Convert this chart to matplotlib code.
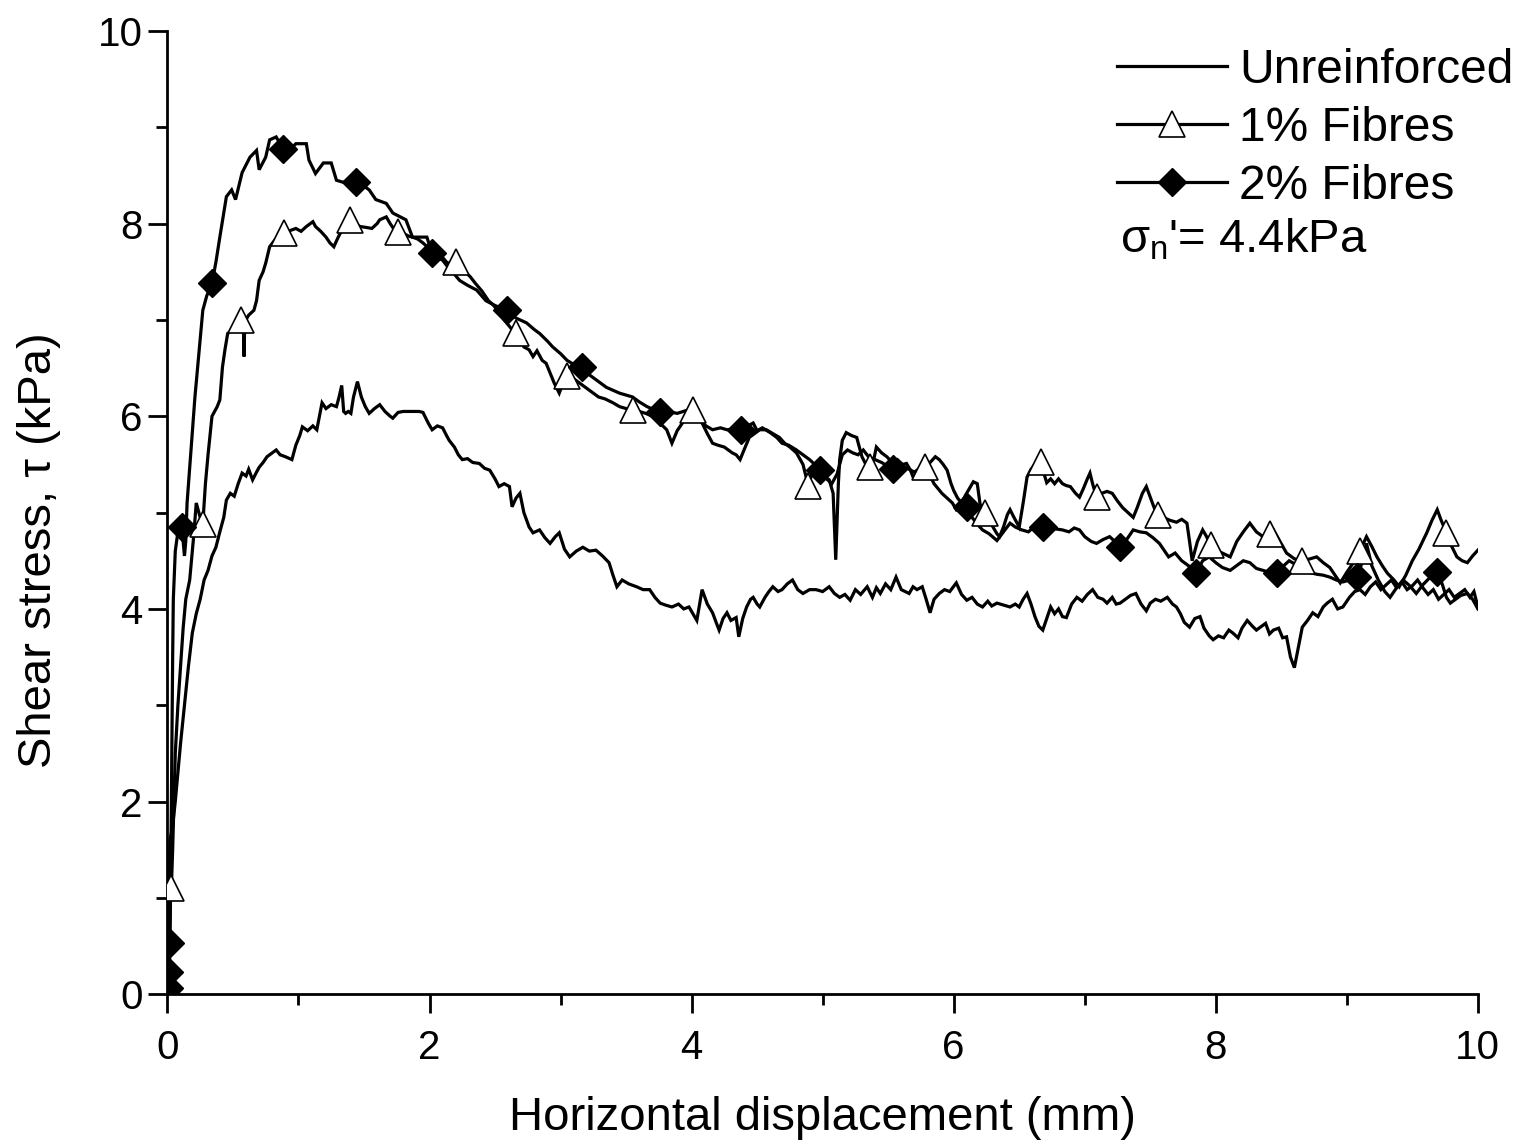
import numpy as np
import matplotlib
matplotlib.use("Agg")
import matplotlib.pyplot as plt
from matplotlib.lines import Line2D
from matplotlib.ticker import MultipleLocator

plt.rcParams['font.family'] = ['Liberation Sans', 'DejaVu Sans']
plt.rcParams['mathtext.fontset'] = 'custom'
plt.rcParams['mathtext.rm'] = 'Liberation Sans'
plt.rcParams['mathtext.it'] = 'Liberation Sans'

# (displacement mm, shear stress kPa)
unreinforced = [
    (0.00, 0.00), (0.005, 0.6), (0.01, 1.2), (0.02, 1.6), (0.04, 1.75), (0.06, 2.0), (0.08, 2.3),
    (0.10, 2.6), (0.13, 3.0), (0.16, 3.4), (0.19, 3.75), (0.22, 3.95), (0.25, 4.1), (0.28, 4.3),
    (0.31, 4.4), (0.34, 4.55), (0.37, 4.64), (0.40, 4.8), (0.43, 4.95), (0.45, 5.13), (0.48, 5.2),
    (0.51, 5.17), (0.54, 5.3), (0.57, 5.41), (0.60, 5.38), (0.62, 5.45), (0.65, 5.34), (0.68, 5.42),
    (0.70, 5.47), (0.73, 5.52), (0.76, 5.58), (0.80, 5.62), (0.83, 5.65), (0.86, 5.6), (0.90, 5.58),
    (0.95, 5.55), (0.98, 5.7), (1.01, 5.8), (1.03, 5.89), (1.07, 5.85), (1.11, 5.9), (1.14, 5.86),
    (1.16, 6.0), (1.18, 6.14), (1.21, 6.08), (1.25, 6.12), (1.29, 6.1), (1.31, 6.2), (1.33, 6.32),
    (1.345, 6.05), (1.36, 6.03), (1.38, 6.05), (1.40, 6.03), (1.42, 6.2), (1.45, 6.36), (1.48, 6.2),
    (1.51, 6.1), (1.54, 6.03), (1.58, 6.08), (1.62, 6.12), (1.66, 6.05), (1.70, 6.0), (1.72, 5.98),
    (1.76, 6.04), (1.80, 6.05), (1.86, 6.05), (1.92, 6.05), (1.95, 6.04), (1.99, 5.93), (2.02, 5.86),
    (2.06, 5.9), (2.10, 5.88), (2.13, 5.8), (2.15, 5.75), (2.19, 5.68), (2.22, 5.6), (2.25, 5.55),
    (2.29, 5.56), (2.33, 5.52), (2.38, 5.51), (2.42, 5.46), (2.46, 5.44), (2.50, 5.35), (2.53, 5.27),
    (2.57, 5.3), (2.61, 5.27), (2.63, 5.06), (2.66, 5.15), (2.69, 5.2), (2.72, 5.0), (2.76, 4.85),
    (2.79, 4.79), (2.84, 4.82), (2.88, 4.74), (2.92, 4.68), (2.96, 4.75), (2.99, 4.79), (3.03, 4.62),
    (3.07, 4.54), (3.12, 4.6), (3.17, 4.64), (3.22, 4.6), (3.27, 4.61), (3.32, 4.55), (3.37, 4.48),
    (3.40, 4.35), (3.43, 4.23), (3.47, 4.3), (3.52, 4.26), (3.58, 4.23), (3.63, 4.2), (3.68, 4.2),
    (3.72, 4.12), (3.76, 4.06), (3.80, 4.04), (3.85, 4.02), (3.90, 4.05), (3.94, 4.0), (3.98, 4.02),
    (4.01, 3.95), (4.04, 3.88), (4.08, 4.2), (4.12, 4.05), (4.16, 3.96), (4.19, 3.85), (4.21, 3.78),
    (4.24, 3.9), (4.27, 3.96), (4.30, 3.88), (4.34, 3.91), (4.36, 3.71), (4.39, 3.9), (4.42, 4.02),
    (4.45, 4.1), (4.47, 4.12), (4.50, 4.05), (4.52, 4.02), (4.56, 4.12), (4.59, 4.18), (4.62, 4.23),
    (4.66, 4.18), (4.69, 4.2), (4.73, 4.26), (4.77, 4.3), (4.81, 4.2), (4.85, 4.16), (4.90, 4.2),
    (4.95, 4.2), (5.00, 4.18), (5.05, 4.23), (5.09, 4.16), (5.13, 4.12), (5.17, 4.15), (5.21, 4.09),
    (5.25, 4.2), (5.29, 4.15), (5.34, 4.23), (5.38, 4.12), (5.41, 4.22), (5.44, 4.16), (5.48, 4.26),
    (5.52, 4.2), (5.56, 4.33), (5.60, 4.2), (5.63, 4.18), (5.66, 4.16), (5.69, 4.23), (5.72, 4.2),
    (5.76, 4.23), (5.79, 4.1), (5.82, 3.96), (5.85, 4.1), (5.89, 4.16), (5.93, 4.2), (5.97, 4.18),
    (6.02, 4.27), (6.06, 4.15), (6.10, 4.09), (6.14, 4.12), (6.18, 4.05), (6.22, 4.02), (6.26, 4.08),
    (6.29, 4.03), (6.33, 4.06), (6.38, 4.04), (6.43, 4.02), (6.47, 4.05), (6.50, 4.02), (6.53, 4.1),
    (6.56, 4.16), (6.59, 4.05), (6.62, 3.92), (6.65, 3.82), (6.68, 3.78), (6.71, 3.9), (6.74, 4.02),
    (6.77, 3.95), (6.80, 4.0), (6.83, 3.92), (6.86, 3.91), (6.90, 4.05), (6.94, 4.12), (6.98, 4.08),
    (7.02, 4.15), (7.06, 4.2), (7.10, 4.12), (7.14, 4.1), (7.17, 4.06), (7.21, 4.12), (7.24, 4.05),
    (7.27, 4.06), (7.31, 4.1), (7.35, 4.14), (7.39, 4.16), (7.43, 4.05), (7.47, 3.98), (7.50, 4.06),
    (7.54, 4.1), (7.58, 4.08), (7.63, 4.12), (7.67, 4.05), (7.70, 4.02), (7.73, 3.95), (7.76, 3.86),
    (7.80, 3.81), (7.84, 3.9), (7.88, 3.92), (7.91, 3.8), (7.95, 3.72), (7.98, 3.68), (8.02, 3.72),
    (8.06, 3.7), (8.10, 3.78), (8.13, 3.75), (8.17, 3.7), (8.20, 3.8), (8.24, 3.88), (8.28, 3.82),
    (8.31, 3.78), (8.34, 3.81), (8.38, 3.85), (8.41, 3.74), (8.44, 3.78), (8.48, 3.8), (8.51, 3.7),
    (8.54, 3.71), (8.57, 3.5), (8.60, 3.39), (8.63, 3.6), (8.66, 3.81), (8.70, 3.88), (8.74, 3.96),
    (8.78, 3.92), (8.82, 4.02), (8.85, 4.06), (8.89, 4.1), (8.93, 4.0), (8.97, 4.02), (9.02, 4.12),
    (9.06, 4.18), (9.10, 4.2), (9.14, 4.15), (9.18, 4.23), (9.22, 4.28), (9.26, 4.2), (9.30, 4.25),
    (9.34, 4.3), (9.38, 4.22), (9.42, 4.28), (9.46, 4.2), (9.50, 4.24), (9.54, 4.3), (9.58, 4.22),
    (9.62, 4.15), (9.66, 4.2), (9.70, 4.1), (9.74, 4.15), (9.78, 4.2), (9.82, 4.12), (9.86, 4.16),
    (9.90, 4.2), (9.94, 4.12), (9.97, 4.18), (10.0, 4.02),
]

fibres_1 = [
    (0.00, 0.0), (0.01, 0.4), (0.02, 0.9), (0.03, 1.1), (0.04, 1.5), (0.05, 2.0), (0.06, 2.5),
    (0.08, 3.0), (0.10, 3.4), (0.12, 3.8), (0.14, 4.1), (0.17, 4.3), (0.20, 4.75), (0.22, 5.1),
    (0.25, 4.95), (0.27, 4.88), (0.29, 5.3), (0.31, 5.6), (0.34, 6.0), (0.38, 6.1), (0.40, 6.17),
    (0.42, 6.51), (0.44, 6.7), (0.46, 6.86), (0.50, 6.9), (0.53, 6.95), (0.56, 7.0), (0.58, 6.98),
    (0.585, 6.62), (0.59, 6.98), (0.62, 7.05), (0.66, 7.1), (0.68, 7.2), (0.70, 7.41), (0.73, 7.5),
    (0.75, 7.59), (0.78, 7.76), (0.82, 7.83), (0.86, 7.88), (0.89, 7.9), (0.94, 7.93), (0.98, 7.95),
    (1.02, 7.92), (1.06, 7.97), (1.09, 8.0), (1.11, 8.02), (1.13, 7.97), (1.17, 7.92), (1.21, 7.86),
    (1.24, 7.8), (1.27, 7.76), (1.30, 7.85), (1.33, 7.93), (1.36, 8.0), (1.39, 8.04), (1.43, 8.0),
    (1.47, 7.97), (1.52, 7.96), (1.56, 7.95), (1.60, 8.0), (1.62, 8.04), (1.67, 8.07), (1.70, 8.0),
    (1.73, 7.94), (1.76, 7.91), (1.80, 7.9), (1.84, 7.87), (1.87, 7.86), (1.91, 7.84), (1.95, 7.8),
    (1.99, 7.75), (2.03, 7.72), (2.07, 7.68), (2.10, 7.65), (2.13, 7.6), (2.16, 7.58), (2.20, 7.6),
    (2.23, 7.52), (2.27, 7.5), (2.31, 7.45), (2.35, 7.38), (2.40, 7.3), (2.45, 7.2), (2.49, 7.15),
    (2.53, 7.08), (2.57, 7.0), (2.60, 6.95), (2.63, 6.9), (2.66, 6.86), (2.69, 6.8), (2.72, 6.72),
    (2.76, 6.69), (2.79, 6.62), (2.82, 6.68), (2.86, 6.58), (2.89, 6.55), (2.92, 6.45), (2.95, 6.35),
    (2.99, 6.24), (3.02, 6.35), (3.05, 6.42), (3.09, 6.4), (3.14, 6.35), (3.19, 6.3), (3.24, 6.25),
    (3.29, 6.2), (3.34, 6.18), (3.40, 6.14), (3.45, 6.1), (3.50, 6.08), (3.55, 6.06), (3.60, 6.05),
    (3.65, 6.03), (3.70, 6.0), (3.74, 5.95), (3.78, 5.9), (3.81, 5.86), (3.85, 5.72), (3.89, 5.85),
    (3.93, 5.93), (3.97, 6.0), (4.01, 6.06), (4.05, 6.0), (4.08, 5.93), (4.12, 5.82), (4.16, 5.72),
    (4.20, 5.7), (4.25, 5.68), (4.31, 5.62), (4.34, 5.6), (4.37, 5.55), (4.40, 5.65), (4.44, 5.78),
    (4.48, 5.82), (4.52, 5.86), (4.57, 5.86), (4.62, 5.82), (4.67, 5.78), (4.71, 5.72), (4.75, 5.68),
    (4.80, 5.62), (4.85, 5.5), (4.89, 5.28), (4.93, 5.45), (4.97, 5.42), (5.01, 5.38), (5.05, 5.34),
    (5.08, 5.2), (5.10, 4.51), (5.12, 5.3), (5.13, 5.55), (5.15, 5.75), (5.18, 5.83), (5.22, 5.8),
    (5.26, 5.78), (5.30, 5.58), (5.33, 5.5), (5.36, 5.47), (5.39, 5.55), (5.41, 5.68), (5.45, 5.62),
    (5.49, 5.58), (5.53, 5.52), (5.57, 5.55), (5.61, 5.5), (5.64, 5.51), (5.67, 5.44), (5.69, 5.37),
    (5.72, 5.42), (5.75, 5.48), (5.78, 5.47), (5.82, 5.52), (5.86, 5.58), (5.89, 5.55), (5.92, 5.5),
    (5.95, 5.44), (5.98, 5.3), (6.00, 5.23), (6.03, 5.15), (6.06, 5.1), (6.09, 5.18), (6.12, 5.25),
    (6.15, 5.32), (6.18, 5.3), (6.20, 5.1), (6.22, 5.0), (6.24, 5.0), (6.27, 4.92), (6.30, 4.85),
    (6.33, 4.78), (6.35, 4.75), (6.38, 4.85), (6.41, 4.98), (6.43, 5.03), (6.46, 4.95), (6.50, 4.85),
    (6.53, 5.1), (6.56, 5.37), (6.59, 5.45), (6.62, 5.5), (6.67, 5.52), (6.69, 5.4), (6.71, 5.31),
    (6.74, 5.35), (6.77, 5.3), (6.80, 5.35), (6.83, 5.3), (6.86, 5.28), (6.89, 5.27), (6.93, 5.2),
    (6.96, 5.16), (6.99, 5.25), (7.02, 5.35), (7.04, 5.41), (7.06, 5.3), (7.09, 5.16), (7.13, 5.2),
    (7.17, 5.22), (7.21, 5.2), (7.25, 5.12), (7.29, 5.05), (7.33, 5.0), (7.37, 4.95), (7.40, 5.05),
    (7.44, 5.2), (7.47, 5.27), (7.50, 5.16), (7.53, 5.05), (7.56, 4.97), (7.60, 4.95), (7.65, 4.92),
    (7.70, 4.9), (7.74, 4.93), (7.78, 4.89), (7.80, 4.7), (7.82, 4.5), (7.86, 4.7), (7.90, 4.82),
    (7.93, 4.75), (7.96, 4.66), (8.00, 4.61), (8.05, 4.58), (8.11, 4.54), (8.16, 4.7), (8.21, 4.8),
    (8.26, 4.89), (8.31, 4.8), (8.36, 4.75), (8.41, 4.78), (8.44, 4.82), (8.49, 4.7), (8.54, 4.58),
    (8.60, 4.52), (8.66, 4.5), (8.72, 4.52), (8.77, 4.54), (8.82, 4.48), (8.87, 4.43), (8.91, 4.35),
    (8.95, 4.27), (9.00, 4.38), (9.05, 4.48), (9.10, 4.6), (9.15, 4.75), (9.19, 4.65), (9.23, 4.54),
    (9.27, 4.45), (9.31, 4.37), (9.36, 4.3), (9.40, 4.23), (9.45, 4.35), (9.50, 4.5), (9.55, 4.62),
    (9.61, 4.79), (9.65, 4.92), (9.69, 5.03), (9.72, 4.92), (9.76, 4.79), (9.80, 4.65), (9.84, 4.54),
    (9.88, 4.5), (9.92, 4.48), (9.96, 4.55), (10.0, 4.61),
]

fibres_2 = [
    (0.00, 0.0), (0.01, 0.06), (0.015, 0.23), (0.02, 0.53), (0.025, 1.2), (0.03, 2.0), (0.035, 2.8),
    (0.04, 3.5), (0.045, 4.1), (0.06, 4.6), (0.08, 4.8), (0.11, 4.85), (0.13, 4.55), (0.14, 4.7),
    (0.15, 5.1), (0.17, 5.47), (0.19, 5.83), (0.21, 6.2), (0.23, 6.5), (0.27, 7.1), (0.30, 7.25),
    (0.34, 7.38), (0.37, 7.6), (0.40, 7.86), (0.45, 8.28), (0.49, 8.35), (0.52, 8.25), (0.57, 8.53),
    (0.63, 8.69), (0.68, 8.76), (0.70, 8.56), (0.75, 8.69), (0.78, 8.87), (0.83, 8.9), (0.88, 8.78),
    (0.93, 8.76), (0.98, 8.83), (1.06, 8.83), (1.08, 8.66), (1.13, 8.52), (1.19, 8.63), (1.25, 8.63),
    (1.29, 8.45), (1.34, 8.43), (1.39, 8.44), (1.44, 8.43), (1.49, 8.4), (1.54, 8.35), (1.59, 8.25),
    (1.67, 8.21), (1.72, 8.11), (1.82, 8.04), (1.87, 7.86), (1.98, 7.86), (2.02, 7.69), (2.06, 7.65),
    (2.10, 7.62), (2.14, 7.55), (2.18, 7.49), (2.23, 7.41), (2.29, 7.36), (2.36, 7.31), (2.43, 7.2),
    (2.50, 7.15), (2.55, 7.12), (2.59, 7.1), (2.66, 7.02), (2.74, 6.97), (2.80, 6.9), (2.84, 6.86),
    (2.90, 6.78), (2.94, 6.72), (3.00, 6.65), (3.05, 6.58), (3.11, 6.53), (3.16, 6.51), (3.20, 6.45),
    (3.24, 6.41), (3.30, 6.35), (3.35, 6.3), (3.40, 6.27), (3.45, 6.24), (3.50, 6.22), (3.55, 6.2),
    (3.60, 6.15), (3.66, 6.1), (3.71, 6.07), (3.76, 6.04), (3.82, 6.05), (3.89, 6.03), (3.96, 6.06),
    (4.01, 6.0), (4.06, 5.96), (4.11, 5.9), (4.16, 5.86), (4.22, 5.88), (4.27, 5.86), (4.33, 5.87),
    (4.38, 5.86), (4.43, 5.9), (4.47, 5.93), (4.50, 5.85), (4.54, 5.88), (4.60, 5.83), (4.65, 5.78),
    (4.69, 5.72), (4.74, 5.7), (4.80, 5.65), (4.85, 5.6), (4.90, 5.55), (4.94, 5.5), (4.98, 5.44),
    (5.03, 5.35), (5.07, 5.3), (5.11, 5.4), (5.15, 5.6), (5.19, 5.65), (5.23, 5.62), (5.27, 5.6),
    (5.31, 5.65), (5.35, 5.58), (5.40, 5.55), (5.45, 5.52), (5.50, 5.48), (5.54, 5.45), (5.58, 5.5),
    (5.62, 5.48), (5.66, 5.45), (5.70, 5.42), (5.74, 5.46), (5.78, 5.42), (5.82, 5.38), (5.85, 5.3),
    (5.88, 5.25), (5.91, 5.2), (5.95, 5.15), (5.99, 5.1), (6.02, 5.03), (6.06, 5.08), (6.10, 5.06),
    (6.14, 4.95), (6.18, 4.88), (6.22, 4.82), (6.27, 4.78), (6.33, 4.71), (6.38, 4.8), (6.43, 4.89),
    (6.47, 4.85), (6.52, 4.82), (6.57, 4.8), (6.62, 4.86), (6.68, 4.85), (6.73, 4.88), (6.78, 4.83),
    (6.83, 4.82), (6.88, 4.8), (6.92, 4.84), (6.96, 4.82), (7.00, 4.75), (7.05, 4.7), (7.09, 4.68),
    (7.14, 4.72), (7.19, 4.75), (7.23, 4.7), (7.27, 4.64), (7.32, 4.72), (7.37, 4.82), (7.42, 4.8),
    (7.47, 4.79), (7.52, 4.74), (7.57, 4.68), (7.61, 4.6), (7.64, 4.54), (7.69, 4.58), (7.74, 4.5),
    (7.79, 4.45), (7.85, 4.37), (7.90, 4.5), (7.95, 4.54), (8.00, 4.48), (8.05, 4.43), (8.11, 4.4),
    (8.16, 4.45), (8.21, 4.5), (8.26, 4.48), (8.31, 4.42), (8.36, 4.4), (8.41, 4.38), (8.47, 4.37),
    (8.52, 4.45), (8.56, 4.5), (8.61, 4.46), (8.66, 4.4), (8.71, 4.38), (8.77, 4.36), (8.82, 4.35),
    (8.87, 4.33), (8.92, 4.3), (8.97, 4.28), (9.02, 4.3), (9.08, 4.33), (9.12, 4.5), (9.15, 4.68),
    (9.19, 4.45), (9.24, 4.3), (9.29, 4.18), (9.33, 4.12), (9.38, 4.22), (9.43, 4.3), (9.48, 4.24),
    (9.53, 4.16), (9.58, 4.25), (9.63, 4.32), (9.69, 4.38), (9.73, 4.25), (9.76, 4.12), (9.79, 4.06),
    (9.83, 4.1), (9.87, 4.14), (9.92, 4.16), (9.96, 4.1), (10.0, 4.0),
]

# marker positions along the fibre curves
fibres_1_marks = [
    (0.03, 1.1), (0.27, 4.88), (0.56, 7.0), (0.89, 7.9), (1.39, 8.04), (1.76, 7.91), (2.20, 7.6),
    (2.66, 6.86), (3.05, 6.42), (3.55, 6.06), (4.01, 6.06), (4.89, 5.28), (5.36, 5.47), (5.78, 5.47),
    (6.24, 5.0), (6.67, 5.52), (7.09, 5.16), (7.56, 4.97), (7.96, 4.66), (8.41, 4.78), (8.66, 4.5),
    (9.10, 4.6), (9.76, 4.79),
]
fibres_2_marks = [
    (0.01, 0.06), (0.015, 0.23), (0.02, 0.53), (0.11, 4.85), (0.34, 7.38), (0.88, 8.78), (1.44, 8.43),
    (2.02, 7.69), (2.59, 7.1), (3.16, 6.51), (3.76, 6.04), (4.38, 5.86), (4.98, 5.44), (5.54, 5.45),
    (6.10, 5.06), (6.68, 4.85), (7.27, 4.64), (7.85, 4.37), (8.47, 4.37), (9.08, 4.33), (9.69, 4.38),
]

labels = ["Unreinforced", "1% Fibres", "2% Fibres"]
note = "'= 4.4kPa"

fig = plt.figure(figsize=(15.22, 11.48), dpi=100)
ax = fig.add_axes([0.110, 0.134, 0.861, 0.839])

lw = 2.3
for pts in (unreinforced, fibres_1, fibres_2):
    x, y = np.array(pts).T
    ax.plot(x, y, color='black', lw=lw, solid_joinstyle='miter')

tri = dict(marker='^', ms=19, mfc='white', mec='black', mew=1.2)
dia = dict(marker='D', ms=14, mfc='black', mec='black')
mx, my = np.array(fibres_1_marks).T
ax.plot(mx, my, ls='none', zorder=3, **tri)
mx, my = np.array(fibres_2_marks).T
ax.plot(mx, my, ls='none', zorder=4, **dia)

ax.set_xlim(0, 10)
ax.set_ylim(0, 10)
ax.xaxis.set_major_locator(MultipleLocator(2))
ax.xaxis.set_minor_locator(MultipleLocator(1))
ax.yaxis.set_major_locator(MultipleLocator(2))
ax.yaxis.set_minor_locator(MultipleLocator(1))
ax.tick_params(which='major', direction='out', length=14, width=2, labelsize=29)
ax.tick_params(which='minor', direction='out', length=8, width=2)
ax.tick_params(axis='x', which='major', pad=11)
ax.tick_params(axis='y', which='major', pad=4)
for s in ('top', 'right'):
    ax.spines[s].set_visible(False)
for s in ('left', 'bottom'):
    ax.spines[s].set_linewidth(2)

ax.set_xlabel("Horizontal displacement (mm)", fontsize=34)
ax.set_ylabel("Shear stress, τ (kPa)", fontsize=34)
ax.xaxis.set_label_coords(0.5, -0.106)
ax.yaxis.set_label_coords(-0.081, 0.461)

handles = [
    Line2D([], [], color='black', lw=lw),
    Line2D([], [], color='black', lw=lw, **tri),
    Line2D([], [], color='black', lw=lw, **dia),
]
fig.legend(handles, labels, loc='upper left', bbox_to_anchor=(0.734, 0.958), frameon=False,
           fontsize=34.5, handlelength=2.3, handletextpad=0.25, labelspacing=0.27,
           borderpad=0, borderaxespad=0)
fig.text(0.736, 0.791, r"$\sigma_{\rm n}$" + note, fontsize=34, va='center', ha='left')

fig.savefig("out.png", dpi=100)
